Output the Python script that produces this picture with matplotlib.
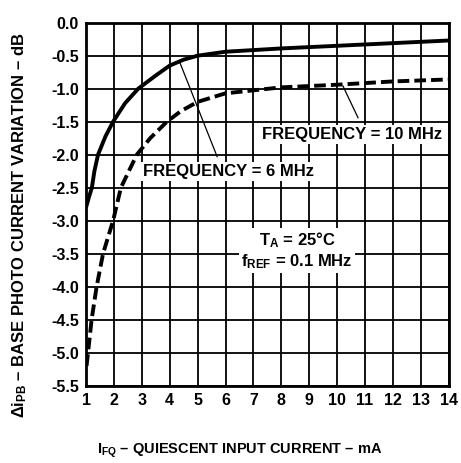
import matplotlib
matplotlib.use("Agg")
import matplotlib.pyplot as plt

plt.rcParams['font.family'] = ['Liberation Sans', 'DejaVu Sans']
plt.rcParams['font.weight'] = 'bold'
plt.rcParams['mathtext.fontset'] = 'custom'
plt.rcParams['mathtext.rm'] = 'Liberation Sans:bold'
plt.rcParams['mathtext.it'] = 'Liberation Sans:bold'
plt.rcParams['mathtext.bf'] = 'Liberation Sans:bold'

# 6 MHz (solid)
solid_x = [1.0, 1.1, 1.21, 1.3, 1.43, 1.7, 1.97, 2.4, 2.87, 3.5, 4.0, 4.5, 5.0, 6.0, 8.0, 10.0, 12.0, 14.0]
solid_y = [-2.8, -2.65, -2.5, -2.25, -2.0, -1.72, -1.5, -1.22, -1.0, -0.8, -0.65, -0.56, -0.5, -0.44, -0.39, -0.35, -0.31, -0.27]
# 10 MHz (dashed)
dashed_x = [1.02, 1.2, 1.38, 1.61, 1.97, 2.25, 2.82, 3.3, 3.9, 4.4, 5.0, 6.0, 8.0, 10.0, 12.0, 14.0]
dashed_y = [-5.2, -4.5, -4.0, -3.5, -3.0, -2.5, -2.0, -1.75, -1.5, -1.34, -1.2, -1.07, -0.98, -0.94, -0.89, -0.86]

x_ticks = list(range(1, 15))
y_ticks = [0.0, -0.5, -1.0, -1.5, -2.0, -2.5, -3.0, -3.5, -4.0, -4.5, -5.0, -5.5]
x_lim = (1, 14)
y_lim = (-5.5, 0.0)

fig = plt.figure(figsize=(4.61, 4.63), dpi=100)
ax = fig.add_axes([0.1866, 0.167, 0.9733 - 0.1866, 0.951 - 0.167])

ax.set_xlim(*x_lim)
ax.set_ylim(*y_lim)
ax.set_xticks(x_ticks)
ax.set_yticks(y_ticks)
ax.set_yticklabels([f"{v:.1f}" for v in y_ticks])
ax.tick_params(length=0, labelsize=11.5, pad=5)
for lab in ax.get_xticklabels() + ax.get_yticklabels():
    lab.set_fontweight('bold')
ax.grid(True, which='major', axis='both', color='black', linestyle='-', linewidth=1.3)
ax.set_axisbelow(True)
for s in ax.spines.values():
    s.set_linewidth(2)

ax.plot(solid_x, solid_y, color='black', lw=2.8, solid_capstyle='butt', zorder=3)
ax.plot(dashed_x, dashed_y, color='black', lw=2.8, dashes=(3.0, 1.3), zorder=3)

# pointer lines
ax.plot([4.37, 5.7], [-0.61, -2.03], color='black', lw=0.9, zorder=3)
ax.plot([10.21, 10.75], [-0.96, -1.44], color='black', lw=0.9, zorder=3)

bb = dict(facecolor='white', edgecolor='none', pad=1.5)
ax.text(10.53, -1.70, "FREQUENCY = 10 MHz", ha='center', va='center', fontsize=12, fontweight='bold', bbox=bb, zorder=4)
ax.text(6.09, -2.25, "FREQUENCY = 6 MHz", ha='center', va='center', fontsize=12, fontweight='bold', bbox=bb, zorder=4)
ax.text(8.56, -3.45, "$\\mathregular{T_A}$ = 25°C\n$\\mathregular{f_{REF}}$ = 0.1 MHz", ha='center', va='center',
        fontsize=12, fontweight='bold', linespacing=1.15, bbox=bb, zorder=4)

fig.text(0.043, 0.514, "$\\mathregular{\\Delta i_{PB}}$ – BASE PHOTO CURRENT VARIATION – dB", rotation=90,
         ha='center', va='center', fontsize=12, fontweight='bold')
fig.text(0.52, 0.026, "$\\mathregular{I_{FQ}}$ – QUIESCENT INPUT CURRENT – mA",
         ha='center', va='center', fontsize=10.5, fontweight='bold')

fig.savefig("out.png", dpi=100)
